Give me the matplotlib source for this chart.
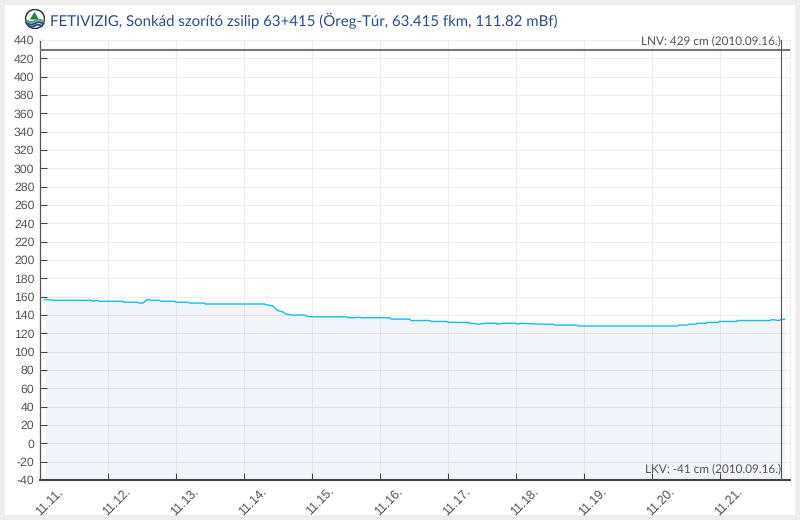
import matplotlib
matplotlib.use('Agg')
import matplotlib.pyplot as plt
from matplotlib.patches import Rectangle, Circle, Polygon
import numpy as np

plt.rcParams['text.hinting'] = 'none'

title = 'FETIVIZIG, Sonkád szorító zsilip 63+415 (Öreg-Túr, 63.415 fkm, 111.82 mBf)'
lnv_label = 'LNV: 429 cm (2010.09.16.)'
lkv_label = 'LKV: -41 cm (2010.09.16.)'
lnv = 429
now = 10.9

day_labels = ['11.11.', '11.12.', '11.13.', '11.14.', '11.15.', '11.16.',
              '11.17.', '11.18.', '11.19.', '11.20.', '11.21.']
y_ticks = list(range(-40, 441, 20))

# days since 11.11. 00:00
days = [0.07, 0.24, 0.75, 0.78, 0.83, 0.87, 1.21, 1.24, 1.42, 1.46, 1.51, 1.58,
        1.64, 1.76, 1.78, 1.98, 2.00, 2.17, 2.20, 2.42, 2.43, 3.30, 3.33, 3.42,
        3.49, 3.57, 3.62, 3.70, 3.89, 3.93, 4.01, 4.51, 4.53, 4.62, 4.68, 4.74,
        5.14, 5.17, 5.43, 5.46, 5.73, 5.76, 5.98, 6.01, 6.29, 6.33, 6.46, 6.55,
        6.71, 6.72, 6.82, 6.87, 7.00, 7.03, 7.07, 7.35, 7.54, 7.57, 7.89, 7.92,
        9.37, 9.40, 9.52, 9.55, 9.65, 9.67, 9.80, 9.81, 9.98, 9.99, 10.24, 10.26,
        10.74, 10.76, 10.81, 10.86, 10.90, 10.95]
levels = [157, 156, 156, 155, 156, 155, 155, 154, 154, 153, 153, 157,
          156, 156, 155, 155, 154, 154, 153, 153, 152, 152, 151, 150,
          145, 143.5, 141, 140, 140, 138.5, 138, 138, 137, 137, 137.5, 137,
          137, 135.5, 135.5, 134, 134, 133, 133, 132, 132, 131, 130, 131,
          131, 130, 131, 131, 131, 130, 131, 130, 130, 129, 129, 128,
          128, 129, 129, 130, 130, 131, 131, 132, 132, 133, 133, 134,
          134, 135, 134.5, 134, 135, 135.5]

fig = plt.figure(figsize=(8, 5.2), dpi=100, facecolor='#eeeeee')
fig.add_artist(Rectangle((5 / 800, 5 / 520), 790 / 800, 510 / 520, zorder=-1,
                         transform=fig.transFigure, facecolor='white', edgecolor='none'))

ax = fig.add_axes([40 / 800, (520 - 480) / 520, 750 / 800, 440 / 520])
ax.patch.set_alpha(0)
ax.set_xlim(0, 750 / 68)
ax.set_ylim(-40, 440)

ax.set_xticks(range(len(day_labels)))
ax.set_xticklabels([])
for i, lab in enumerate(day_labels):
    ax.annotate(lab, (i, 0), xycoords=('data', 'axes fraction'), xytext=(9, -22),
                textcoords='offset pixels', rotation=45, ha='center', va='center',
                family='Liberation Sans', fontsize=9, color='#555555', annotation_clip=False)

ax.set_yticks(y_ticks)
ax.set_yticklabels([str(v) for v in y_ticks], family='Liberation Sans',
                   fontsize=8.8, color='#555555')

ax.tick_params(axis='x', direction='in', length=5, width=0.75, color='#444444')
ax.tick_params(axis='y', direction='in', length=5, width=0.75, color='#444444', pad=4)
ax.grid(True, color='#eeeeee', linewidth=0.75)
ax.set_axisbelow(True)

for side in ['top', 'right']:
    ax.spines[side].set_color('#eeeeee')
    ax.spines[side].set_linewidth(0.75)
ax.spines['left'].set_color('#555555')
ax.spines['left'].set_linewidth(0.9)
ax.spines['bottom'].set_color('#444444')
ax.spines['bottom'].set_linewidth(1.5)

ax.fill_between(days, levels, -40, color='#1f3a8f', alpha=0.05, linewidth=0, zorder=1.5)
ax.plot(days, levels, color='#12bdf2', linewidth=1, zorder=3)
ax.axhline(lnv, color='#777777', linewidth=1.5, zorder=3)
ax.axvline(now, color='#555555', linewidth=0.8, zorder=3)

ax.text(0.988, 432, lnv_label, transform=ax.get_yaxis_transform(), ha='right', va='bottom',
        family='Lato', fontsize=8.5, color='#555555', zorder=4)
ax.text(0.988, -35, lkv_label, transform=ax.get_yaxis_transform(), ha='right', va='bottom',
        family='Lato', fontsize=8.5, color='#555555', zorder=4)

fig.text(50 / 800, 1 - 20.5 / 520, title, family='Lato', fontsize=10.8, color='#2b4c8c',
         ha='left', va='center')

# little round logo beside the title
logo = fig.add_axes([25 / 800, 1 - 29 / 520, 20 / 800, 20 / 520])
logo.set_xlim(-1.05, 1.05)
logo.set_ylim(-1.05, 1.05)
logo.axis('off')
logo.add_patch(Circle((0, 0), 1, facecolor='white', edgecolor='#333333', linewidth=1.1))
logo.add_patch(Polygon([(-0.55, -0.05), (-0.05, 0.75), (0.4, -0.05)], facecolor='#2e7d3e', edgecolor='none'))
t = np.linspace(-0.9, 0.9, 40)
logo.plot(t, -0.2 + 0.12 * np.sin(t * 4), color='#5aa469', linewidth=1.4)
logo.plot(t, -0.45 + 0.12 * np.sin(t * 4), color='#2b4c8c', linewidth=1.4)
logo.plot(t * 0.8, -0.7 + 0.1 * np.sin(t * 4), color='#2b4c8c', linewidth=1.4)

fig.savefig('out.png', dpi=100, facecolor=fig.get_facecolor())
